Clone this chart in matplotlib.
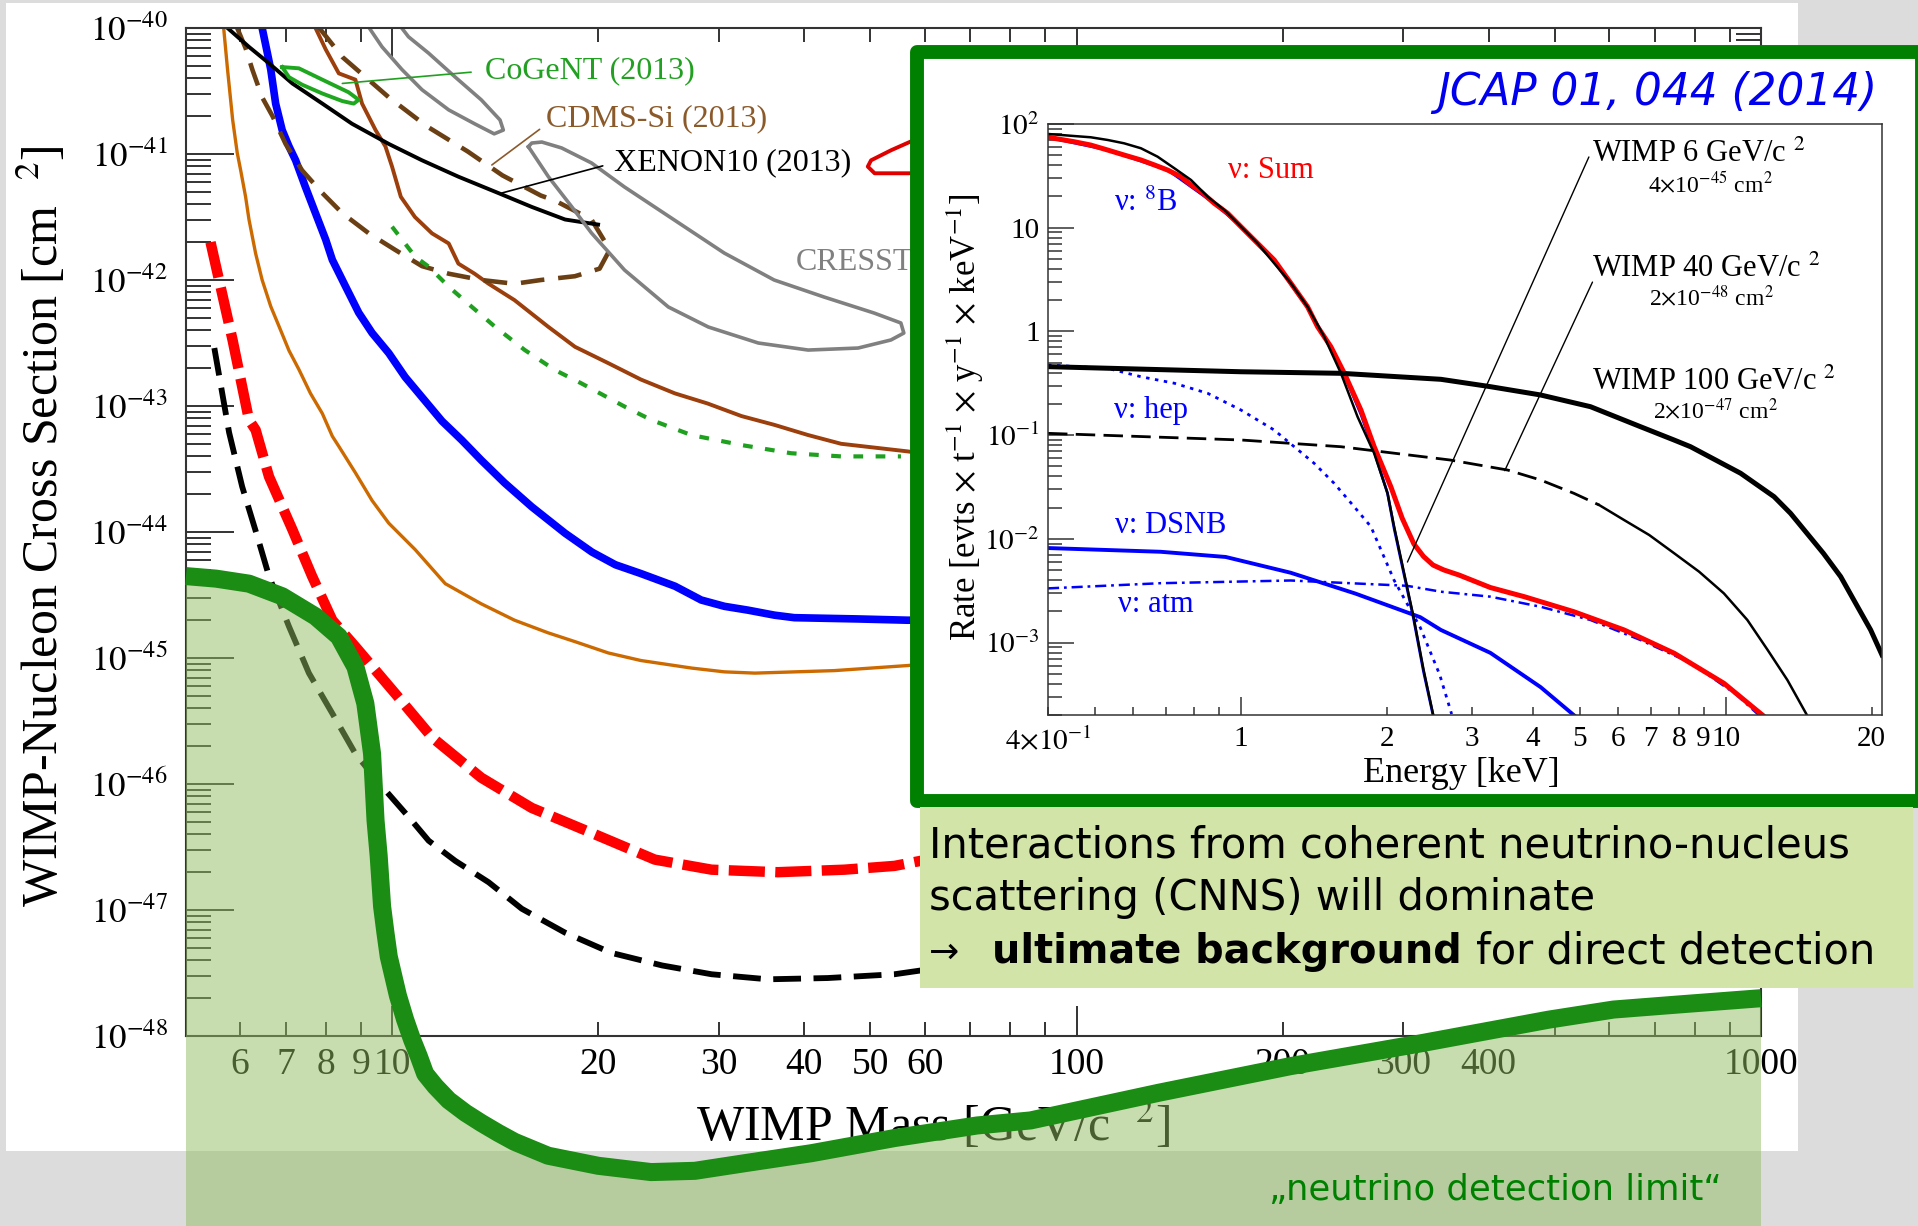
import numpy as np
import matplotlib
matplotlib.use('Agg')
import matplotlib.pyplot as plt
from matplotlib.patches import Rectangle

W, H = 1918, 1226
DPI = 100

# ---------------- main plot: WIMP mass [GeV/c^2], log10(sigma [cm^2]) ----------------
orange_m = [5.68, 5.75, 5.85, 5.94, 6.01, 6.11, 6.18, 6.32, 6.46, 6.65, 6.84, 7.07, 7.31, 7.6, 7.91, 8.18,
            8.36, 8.84, 9.35, 9.89, 10.81, 11.96, 12.8, 13.5, 15.1, 16.9, 18.5, 20.7, 23.1, 27.4, 30.6, 33.9,
            44.3, 56.6, 75.0]
orange_s = [-40.02, -40.33, -40.73, -40.99, -41.13, -41.34, -41.52, -41.79, -42.0, -42.21, -42.37, -42.56,
            -42.71, -42.90, -43.06, -43.24, -43.32, -43.53, -43.75, -43.93, -44.14, -44.41, -44.50, -44.57,
            -44.70, -44.80, -44.87, -44.96, -45.02, -45.08, -45.11, -45.12, -45.10, -45.06, -45.0]

blue_m = [6.46, 6.575, 6.65, 6.76, 6.91, 7.07, 7.23, 7.47, 7.73, 8.0, 8.18, 8.55, 8.94, 9.35, 9.89, 10.45,
          11.06, 11.83, 12.64, 13.5, 14.6, 16.0, 17.9, 19.6, 21.2, 23.1, 25.9, 28.3, 30.6, 33.1, 36.2, 38.7,
          47.9, 56.6, 75.0]
blue_s = [-40.0, -40.20, -40.33, -40.60, -40.81, -40.94, -41.05, -41.26, -41.47, -41.68, -41.84, -42.05,
          -42.26, -42.42, -42.58, -42.77, -42.93, -43.12, -43.27, -43.43, -43.61, -43.80, -44.01, -44.16,
          -44.26, -44.33, -44.43, -44.54, -44.59, -44.62, -44.66, -44.68, -44.69, -44.70, -44.70]

red_m = [5.43, 5.85, 6.18, 6.32, 6.61, 7.15, 7.64, 8.18, 8.84, 10.1, 11.44, 13.5, 16.0, 19.6, 24.2,
         29.3, 36.6, 45.8, 54.2, 59.2, 75.0]
red_s = [-41.70, -42.48, -43.11, -43.19, -43.56, -43.98, -44.35, -44.70, -44.91, -45.28, -45.63, -45.95,
         -46.19, -46.39, -46.60, -46.68, -46.70, -46.68, -46.65, -46.61, -46.5]

bdash_m = [5.50, 5.78, 6.04, 6.36, 6.61, 7.07, 7.56, 8.18, 8.84, 9.67, 10.57, 11.31, 12.37, 13.84, 15.47,
           17.9, 20.9, 24.8, 29.3, 35.4, 43.3, 54.2, 59.2, 75.0]
bdash_s = [-42.54, -43.21, -43.64, -44.04, -44.35, -44.75, -45.12, -45.44, -45.76, -46.02, -46.26, -46.45,
           -46.61, -46.78, -46.99, -47.18, -47.34, -47.44, -47.51, -47.55, -47.54, -47.51, -47.48, -47.4]

floor_m = [5.0, 5.53, 6.18, 6.91, 7.73, 8.36, 8.84, 9.14, 9.35, 9.46, 9.56, 9.67, 9.78, 9.89, 10.2, 10.45,
           10.7, 10.94, 11.18, 11.57, 12.1, 12.8, 13.5, 14.3, 15.1, 16.9, 20.0, 23.9, 27.7, 32.7, 41.0, 54.2,
           71.6, 85.7, 132, 205, 317, 490, 609, 757, 1000]
floor_s = [-44.35, -44.37, -44.41, -44.51, -44.67, -44.83, -45.07, -45.36, -45.76, -46.29, -46.57, -46.97,
           -47.18, -47.37, -47.68, -47.87, -48.03, -48.16, -48.30, -48.40, -48.51, -48.61, -48.69, -48.77,
           -48.84, -48.95, -49.03, -49.08, -49.07, -49.01, -48.93, -48.81, -48.71, -48.67, -48.45, -48.24,
           -48.06, -47.87, -47.79, -47.75, -47.70]

cdms_m = [7.73, 8.0, 8.36, 8.84, 9.04, 9.46, 9.78, 10.0, 10.3, 10.8, 11.44, 12.1, 12.5, 13.2, 13.84, 15.1,
          16.9, 18.5, 20.7, 23.1, 25.9, 28.9, 32.4, 36.2, 40.5, 45.3, 56.6, 75.0]
cdms_s = [-40.0, -40.17, -40.36, -40.41, -40.60, -40.81, -40.94, -41.10, -41.34, -41.50, -41.63, -41.71,
          -41.87, -41.95, -42.03, -42.16, -42.37, -42.53, -42.66, -42.79, -42.90, -42.98, -43.08, -43.15,
          -43.23, -43.30, -43.36, -43.45]

cdmssi_m = [5.94, 6.11, 6.25, 6.46, 6.69, 6.99, 7.39, 7.91, 8.46, 9.25, 10.1, 11.06, 12.1, 13.5, 15.1, 16.5,
            18.5, 20.1, 20.8, 19.56, 17.3, 16.5, 14.5, 12.9, 11.24, 9.89, 8.46, 7.7]
cdmssi_s = [-40.0, -40.16, -40.33, -40.55, -40.70, -40.92, -41.13, -41.31, -41.47, -41.63, -41.76, -41.89,
            -41.95, -42.0, -42.03, -42.0, -41.97, -41.91, -41.76, -41.52, -41.37, -41.33, -41.17, -40.98,
            -40.78, -40.55, -40.23, -39.95]

xenon10_m = [5.75, 6.18, 6.61, 7.15, 7.91, 8.74, 9.89, 11.06, 12.5, 14.3, 16.0, 17.9, 18.9, 20.0]
xenon10_s = [-40.0, -40.15, -40.28, -40.44, -40.60, -40.76, -40.92, -41.05, -41.18, -41.31, -41.42, -41.52,
             -41.54, -41.56]

cogent_m = [6.91, 7.31, 7.91, 8.64, 8.94, 8.79, 8.46, 7.91, 7.39, 7.07, 6.91]
cogent_s = [-40.31, -40.32, -40.41, -40.51, -40.57, -40.60, -40.58, -40.52, -40.45, -40.39, -40.31]

cresst1_m = [9.0, 9.67, 10.34, 11.06, 12.1, 13.2, 14.1, 14.54, 14.38, 13.5, 12.37, 11.31, 10.57, 10.0]
cresst1_s = [-39.9, -40.15, -40.33, -40.49, -40.65, -40.76, -40.84, -40.81, -40.73, -40.57, -40.39, -40.20,
             -40.07, -39.9]

cresst2_m = [15.82, 16.92, 18.30, 19.56, 21.86, 25.33, 28.98, 34.28, 40.54, 47.96, 53.56, 55.94, 55.38, 50.6,
             42.77, 36.16, 30.57, 25.85, 21.86, 19.56, 17.69, 16.55, 16.0, 15.82]
cresst2_s = [-40.942, -41.180, -41.418, -41.627, -41.921, -42.214, -42.373, -42.5, -42.556, -42.54, -42.476,
             -42.421, -42.341, -42.262, -42.135, -42.0, -41.786, -41.524, -41.262, -41.071, -40.952, -40.905,
             -40.913, -40.942]

dama_m = [75.0, 57.3, 53.6, 50.1, 49.55, 50.7, 57.3, 75.0]
dama_s = [-40.85, -40.90, -40.97, -41.05, -41.10, -41.153, -41.153, -41.15]

scdms_m = [10.0, 10.81, 11.31, 12.1, 13.07, 14.14, 15.63, 17.29, 18.9, 21.89, 23.93, 27.35, 32.4, 38.3, 45.3, 55.4]
scdms_s = [-41.577, -41.815, -41.894, -42.053, -42.212, -42.371, -42.556, -42.714, -42.82, -43.006, -43.111,
           -43.23, -43.31, -43.375, -43.40, -43.40]

# ---------------- inset: recoil energy [keV], log10(rate) ----------------
sum_E = [0.40, 0.453, 0.49, 0.531, 0.574, 0.622, 0.663, 0.706, 0.752, 0.789, 0.827, 0.881, 0.939, 1.0, 1.082,
         1.171, 1.268, 1.372, 1.439, 1.533, 1.634, 1.768, 1.883, 2.038, 2.15, 2.274, 2.38, 2.49, 2.62, 2.82,
         3.27, 3.84, 4.86, 6.17, 7.83, 9.91, 11.9]
sum_r = [1.872, 1.829, 1.797, 1.749, 1.701, 1.653, 1.605, 1.556, 1.492, 1.412, 1.347, 1.235, 1.139, 1.01,
         0.850, 0.689, 0.464, 0.238, 0.045, -0.148, -0.404, -0.758, -1.112, -1.498, -1.80, -2.05, -2.17,
         -2.253, -2.30, -2.35, -2.47, -2.558, -2.703, -2.879, -3.104, -3.393, -3.699]

b8_E = [0.40, 0.531, 0.706, 0.881, 1.0, 1.171, 1.372, 1.533, 1.634, 1.768, 1.883, 2.006, 2.07, 2.27, 2.38, 2.49]
b8_r = [1.87, 1.749, 1.556, 1.235, 1.01, 0.68, 0.23, -0.16, -0.42, -0.80, -1.16, -1.56, -1.90, -2.77, -3.28, -3.70]

wimp6_E = [0.40, 0.453, 0.49, 0.531, 0.574, 0.622, 0.673, 0.729, 0.789, 0.854, 0.924, 1.0, 1.082, 1.171,
           1.268, 1.372, 1.485, 1.608, 1.740, 1.883, 2.006, 2.07, 2.27, 2.38, 2.49]
wimp6_r = [1.904, 1.884, 1.872, 1.846, 1.814, 1.766, 1.685, 1.573, 1.46, 1.299, 1.171, 1.01, 0.850, 0.657,
           0.464, 0.238, -0.051, -0.404, -0.823, -1.176, -1.561, -1.883, -2.754, -3.26, -3.69]

wimp40_E = [0.40, 1.0, 1.608, 2.7, 3.55, 4.15, 4.86, 5.48, 6.17, 6.95, 7.83, 8.81, 9.91, 11.08, 12.2, 13.4, 14.7]
wimp40_r = [-0.983, -1.047, -1.112, -1.240, -1.337, -1.433, -1.561, -1.674, -1.819, -1.963, -2.14, -2.317,
            -2.526, -2.783, -3.072, -3.362, -3.699]

wimp100_E = [0.40, 1.0, 1.608, 2.585, 3.27, 4.15, 5.26, 6.67, 7.82, 8.46, 10.73, 12.58, 13.6, 15.9, 17.26,
             18.7, 19.9, 21.0]
wimp100_r = [-0.340, -0.389, -0.404, -0.462, -0.533, -0.613, -0.726, -0.919, -1.047, -1.112, -1.368, -1.594,
             -1.754, -2.14, -2.365, -2.655, -2.879, -3.12]

hep_E = [0.40, 0.531, 0.622, 0.729, 0.854, 1.0, 1.171, 1.288, 1.416, 1.557, 1.712, 1.854, 2.07, 2.344, 2.57, 2.72]
hep_r = [-0.324, -0.356, -0.437, -0.5, -0.597, -0.758, -0.951, -1.112, -1.272, -1.465, -1.69, -1.883, -2.40,
         -2.856, -3.31, -3.69]

dsnb_E = [0.40, 0.683, 0.93, 1.266, 1.722, 2.344, 2.585, 3.27, 4.15, 4.86]
dsnb_r = [-2.089, -2.125, -2.175, -2.327, -2.528, -2.756, -2.879, -3.10, -3.43, -3.70]

atm_E = [0.40, 0.683, 1.266, 2.2, 2.585, 3.27, 4.15, 5.26, 6.67, 8.5, 10.5, 11.7]
atm_r = [-2.478, -2.428, -2.402, -2.453, -2.51, -2.558, -2.655, -2.783, -2.976, -3.2, -3.5, -3.7]

mass_ticks_labeled = [6, 7, 8, 9, 20, 30, 40, 50, 60, 200, 300, 400]
energy_ticks_labeled = [2, 3, 4, 5, 6, 7, 8, 9, 20]

plt.rcParams['font.family'] = 'serif'
plt.rcParams['font.serif'] = ['Liberation Serif', 'DejaVu Serif']
plt.rcParams['mathtext.fontset'] = 'stix'
plt.rcParams['lines.scale_dashes'] = False
SANS = ['DejaVu Sans']


def fx(px):
    return px / W


def fy(py):
    return 1 - py / H


def p(v):
    return 10.0 ** np.asarray(v, dtype=float)


fig = plt.figure(figsize=(W / DPI, H / DPI), dpi=DPI, facecolor='#dcdcdc')
fig.add_artist(Rectangle((fx(6), fy(1151)), fx(1798) - fx(6), fy(3) - fy(1151), transform=fig.transFigure,
                         facecolor='white', edgecolor='none', zorder=-1))

# ---------------- main axes ----------------
ax = fig.add_axes([fx(186), fy(1036), fx(1761) - fx(186), fy(28) - fy(1036)])
ax.set_facecolor('none')
ax.set_xscale('log')
ax.set_yscale('log')

ax.plot(orange_m, p(orange_s), color='#cc6a00', lw=2.4, zorder=2)
ax.plot(blue_m, p(blue_s), color='#0000ff', lw=5.5, zorder=2)
ax.plot(red_m, p(red_s), color='#ff0000', lw=7.5, dashes=(26, 7.5), zorder=2)
ax.plot(bdash_m, p(bdash_s), color='black', lw=4.2, dashes=(20, 9), zorder=2)
ax.plot(cdms_m, p(cdms_s), color='#9c3f0c', lw=2.8, zorder=2)
ax.plot(cdmssi_m, p(cdmssi_s), color='#6b3f14', lw=3.3, dashes=(17, 10), zorder=2)
ax.plot(xenon10_m, p(xenon10_s), color='black', lw=2.8, zorder=2)
ax.plot(cogent_m, p(cogent_s), color='#1fa81f', lw=2.8, zorder=2)
ax.plot(cresst1_m, p(cresst1_s), color='#808080', lw=2.6, zorder=2)
ax.plot(cresst2_m, p(cresst2_s), color='#808080', lw=2.6, zorder=2)
ax.plot(dama_m, p(dama_s), color='#e00000', lw=2.8, zorder=2)
ax.plot(scdms_m, p(scdms_s), color='#1fa01f', lw=3.0, dashes=(7, 9), zorder=2)

# neutrino floor: translucent fill and thick line, running past the axes
ax.fill_between(floor_m, p(floor_s), 1e-56, color='#91bd61', alpha=0.5, lw=0, zorder=5, clip_on=False)
ax.plot(floor_m, p(floor_s), color='#1b8c14', lw=13, zorder=6, clip_on=False, solid_capstyle='butt',
        solid_joinstyle='round')

ax.set_xlim(5, 1000)
ax.set_ylim(1e-48, 1e-40)

ax.set_xticks([10, 100, 1000], labels=['10', '100', '1000'])
minor_x = [k * 10 ** d for d in range(0, 3) for k in range(2, 10) if 5 < k * 10 ** d < 1000]
ax.set_xticks(minor_x, labels=[str(v) if v in mass_ticks_labeled else '' for v in minor_x], minor=True)
major_y = [10.0 ** e for e in range(-48, -39)]
ax.set_yticks(major_y, labels=['$10^{%d}$' % e for e in range(-48, -39)])
ax.set_yticks([k * 10.0 ** e for e in range(-48, -40) for k in range(2, 10)], minor=True)
ax.yaxis.set_minor_formatter(matplotlib.ticker.NullFormatter())

ax.tick_params(which='both', direction='in', top=True, right=True, width=1.4, color='#333333')
ax.xaxis.set_tick_params(which='major', length=21.5, labelsize=27, pad=8)
ax.xaxis.set_tick_params(which='minor', length=10, labelsize=27, pad=8)
ax.yaxis.set_tick_params(which='major', length=34.5, labelsize=25, pad=13)
ax.yaxis.set_tick_params(which='minor', length=18)
for sp in ax.spines.values():
    sp.set_linewidth(1.5)
    sp.set_color('#333333')

ax.text(fx(43), fy(526), 'WIMP-Nucleon Cross Section [cm  $^{2}$]', transform=fig.transFigure,
        rotation=90, ha='center', va='center', fontsize=36, zorder=2)
ax.text(fx(933), fy(1126), 'WIMP Mass [GeV/c  $^{2}$]', transform=fig.transFigure,
        ha='center', va='center', fontsize=36, zorder=2)

ax.annotate('CoGeNT (2013)', xy=(8.46, 10 ** -40.44), xytext=(13.67, 10 ** -40.341), color='#22a022',
            fontsize=23, ha='left', va='center',
            arrowprops=dict(arrowstyle='-', color='#22a022', lw=1.2, relpos=(0, 0.5), shrinkA=8, shrinkB=0))
ax.annotate('CDMS-Si (2013)', xy=(13.99, 10 ** -41.087), xytext=(16.77, 10 ** -40.722), color='#8b5a2b',
            fontsize=23, ha='left', va='center',
            arrowprops=dict(arrowstyle='-', color='#8b5a2b', lw=1.2, relpos=(0, 0.3), shrinkA=3, shrinkB=0))
ax.annotate('XENON10 (2013)', xy=(14.46, 10 ** -41.31), xytext=(21.07, 10 ** -41.071), color='black',
            fontsize=23, ha='left', va='center',
            arrowprops=dict(arrowstyle='-', color='black', lw=1.2, relpos=(0, 0.5), shrinkA=6, shrinkB=0))
ax.text(38.95, 10 ** -41.865, 'CRESST', color='#808080', fontsize=23, ha='left', va='center')

# ---------------- inset frame, text box ----------------
fig.add_artist(Rectangle((fx(917), fy(801)), fx(1922) - fx(917), fy(52) - fy(801), transform=fig.transFigure,
                         facecolor='white', edgecolor='#008000', lw=10, joinstyle='round', zorder=2))
fig.add_artist(Rectangle((fx(920), fy(988)), fx(1913) - fx(920), fy(807) - fy(988), transform=fig.transFigure,
                         facecolor='#d2e4a8', edgecolor='none', zorder=4))

fig.text(fx(1877), fy(105), 'JCAP 01, 044 (2014)', ha='right', va='baseline', color='#0000ee',
         fontsize=31.5, style='italic', family=SANS, zorder=6)

# ---------------- inset axes ----------------
ax_in = fig.add_axes([fx(1048), fy(715), fx(1882) - fx(1048), fy(124) - fy(715)], zorder=3)
ax_in.set_facecolor('none')
ax_in.set_xscale('log')
ax_in.set_yscale('log')

ax_in.plot(atm_E, p(atm_r), color='#0000ff', lw=1.8, dashes=(8, 3.5, 2, 3.5))
ax_in.plot(dsnb_E, p(dsnb_r), color='#0000ff', lw=2.8)
ax_in.plot(hep_E, p(hep_r), color='#0000ff', lw=2.0, dashes=(2.5, 4))
ax_in.plot(b8_E, p(b8_r), color='#0000ff', lw=2.0)
ax_in.plot(sum_E, p(sum_r), color='#ff0000', lw=3.6)
ax_in.plot(wimp6_E, p(wimp6_r), color='black', lw=1.8)
ax_in.plot(wimp40_E[:8], p(wimp40_r[:8]), color='black', lw=2.0, dashes=(14, 6))
ax_in.plot(wimp40_E[7:], p(wimp40_r[7:]), color='black', lw=1.8)
ax_in.plot(wimp100_E, p(wimp100_r), color='black', lw=3.6)

ax_in.set_xlim(0.4, 21)
ax_in.set_ylim(2e-4, 100)

ax_in.set_xticks([1, 10], labels=['1', '10'])
minor_e = [0.4, 0.5, 0.6, 0.7, 0.8, 0.9] + list(range(2, 10)) + [20]
ax_in.set_xticks(minor_e, labels=['$4{\\times}10^{-1}$'] + [''] * 5 +
                 [str(v) if v in energy_ticks_labeled else '' for v in minor_e[6:]], minor=True)
ax_in.set_yticks([10.0 ** e for e in range(-3, 3)],
                 labels=['$10^{-3}$', '$10^{-2}$', '$10^{-1}$', '1', '10', '$10^{2}$'])
ax_in.set_yticks([k * 10.0 ** e for e in range(-4, 2) for k in range(2, 10)], minor=True)
ax_in.yaxis.set_minor_formatter(matplotlib.ticker.NullFormatter())
ax_in.tick_params(which='both', direction='in', width=1.1, color='#333333', labelsize=21)
ax_in.xaxis.set_tick_params(which='major', length=13, pad=8)
ax_in.xaxis.set_tick_params(which='minor', length=6, pad=8)
ax_in.yaxis.set_tick_params(which='major', length=18.7, pad=6)
ax_in.yaxis.set_tick_params(which='minor', length=10)
for sp in ax_in.spines.values():
    sp.set_linewidth(1.1)
    sp.set_color('#333333')

ax_in.text(fx(1461), fy(774), 'Energy [keV]', transform=fig.transFigure, ha='center', va='center', fontsize=26)
ax_in.text(fx(965), fy(417), 'Rate [evts $\\times$ t$^{-1}$ $\\times$ y$^{-1}$ $\\times$ keV$^{-1}$]',
           transform=fig.transFigure, rotation=90, ha='center', va='center', fontsize=25)

ax_in.text(0.939, 36.0, '\u03bd: Sum', color='#ff0000', fontsize=22, va='center')
ax_in.text(0.548, 17.3, '\u03bd: $^{8}$B', color='#0000ff', fontsize=22, va='center')
ax_in.text(0.548, 0.1746, '\u03bd: hep', color='#0000ff', fontsize=22, va='center')
ax_in.text(0.550, 0.0134, '\u03bd: DSNB', color='#0000ff', fontsize=22, va='center')
ax_in.text(0.559, 0.00235, '\u03bd: atm', color='#0000ff', fontsize=22, va='center')

ax_in.text(5.31, 51.4, 'WIMP 6 GeV/c $^{2}$', fontsize=22, va='center')
ax_in.text(9.31, 26.4, '4$\\times$10$^{-45}$ cm$^{2}$', fontsize=17, va='center', ha='center')
ax_in.text(5.31, 4.0, 'WIMP 40 GeV/c $^{2}$', fontsize=22, va='center')
ax_in.text(9.35, 2.10, '2$\\times$10$^{-48}$ cm$^{2}$', fontsize=17, va='center', ha='center')
ax_in.text(5.31, 0.325, 'WIMP 100 GeV/c $^{2}$', fontsize=22, va='center')
ax_in.text(9.54, 0.1726, '2$\\times$10$^{-47}$ cm$^{2}$', fontsize=17, va='center', ha='center')
ax_in.annotate('', xy=(2.205, 0.00597), xytext=(5.22, 48.1),
               arrowprops=dict(arrowstyle='-', color='black', lw=1.0, shrinkA=0, shrinkB=0))
ax_in.annotate('', xy=(3.50, 0.0454), xytext=(5.31, 2.99),
               arrowprops=dict(arrowstyle='-', color='black', lw=1.0, shrinkA=0, shrinkB=0))

# ---------------- text box and bottom caption ----------------
renderer = fig.canvas.get_renderer()
fig.text(fx(929), fy(857), 'Interactions from coherent neutrino-nucleus', fontsize=30, family=SANS,
         va='baseline', zorder=6)
fig.text(fx(929), fy(910), 'scattering (CNNS) will dominate', fontsize=30, family=SANS, va='baseline', zorder=6)
fig.text(fx(929), fy(963), '\u2192', fontsize=26, family=SANS, va='baseline', zorder=6)
t_bold = fig.text(fx(992), fy(963), 'ultimate background', fontsize=28.7, family=SANS, fontweight='bold',
                  va='baseline', zorder=6)
bb = t_bold.get_window_extent(renderer)
fig.text((bb.x1 + 14) / W, fy(963), 'for direct detection', fontsize=30, family=SANS, va='baseline', zorder=6)

fig.text(fx(1722), fy(1200), '\u201eneutrino detection limit\u201c', fontsize=25.5, family=SANS,
         color='#008000', ha='right', va='baseline', zorder=6)

fig.savefig('out.png', dpi=DPI, facecolor=fig.get_facecolor())
